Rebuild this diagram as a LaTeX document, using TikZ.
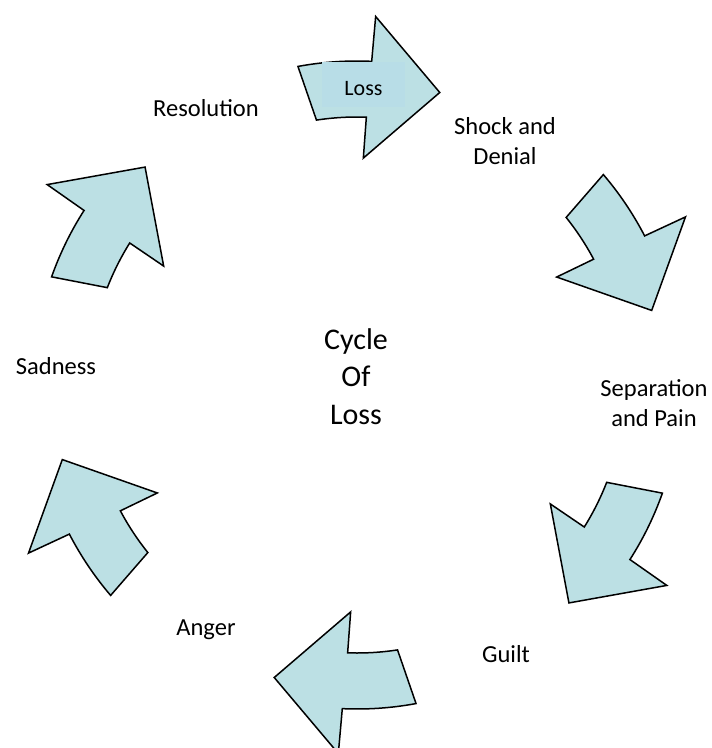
\documentclass[tikz,border=0pt]{standalone}
\usepackage{fontspec}
\setmainfont{Carlito}
\usepackage{xcolor}
\usepackage{tikz}

\definecolor{ringfill}{RGB}{188,224,228}
\definecolor{lossfill}{RGB}{184,221,231}

\begin{document}
\begin{tikzpicture}[x=1pt,y=1pt,
        stage/.style={font=\fontsize{24.5}{30}\selectfont, align=center, anchor=base},
        stagearrow/.style={draw=black, line width=1.5pt, fill=ringfill}]
        \useasboundingbox (-357,-363) rectangle (355,385);
        % six curved arrows round the ring
        \foreach \k in {0,...,5}{
            \begin{scope}[rotate=-60*\k]
                \draw[stagearrow] (100.5:324pt) arc[start angle=100.5, end angle=87.4, radius=324pt]
                    -- (87.1:369pt) -- (74.2:304pt) -- (88.4:227pt) -- (88.0:268pt)
                    arc[start angle=88.0, end angle=98.7, radius=268pt] -- cycle;
            \end{scope}
        }
        \node[fill=lossfill, minimum width=83pt, minimum height=45pt, inner sep=0pt,
            text height=22pt, text depth=0pt, font=\fontsize{22}{26}\selectfont] (loss) at (6.5,300.5) {Loss};
        % base of a stacked label is its last line
        \node[stage] (shock) at (148,221) {Shock and\\Denial};
        \node[stage] (separation) at (297,-41) {Separation\\and Pain};
        \node[stage] (guilt) at (149,-277) {Guilt};
        \node[stage] (anger) at (-151,-250) {Anger};
        \node[stage] (sadness) at (-301,11) {Sadness};
        \node[stage] (resolution) at (-151,269) {Resolution};
        \node[stage, font=\fontsize{30}{37.8}\selectfont] (cycle) at (-1,-39.6) {Cycle\\Of\\Loss};
    \end{tikzpicture}
\end{document}
